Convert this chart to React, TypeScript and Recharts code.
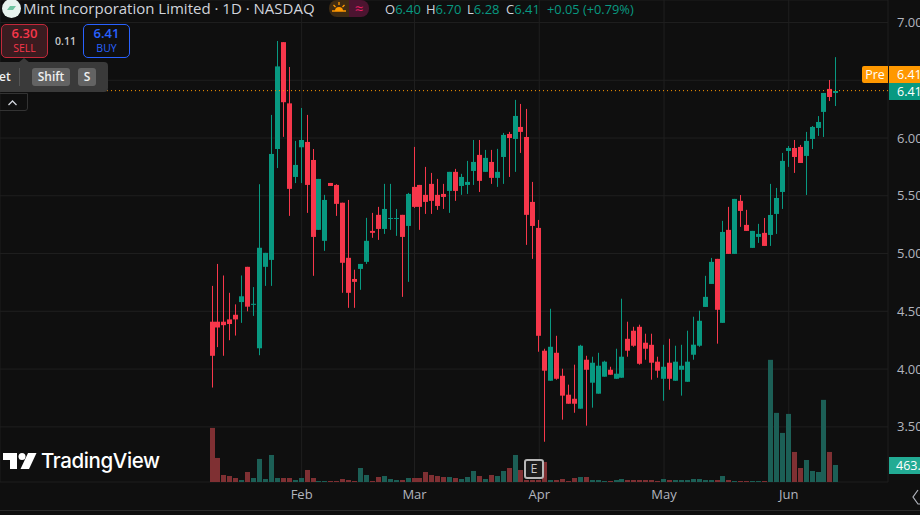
import React from 'react';
import { ComposedChart, Bar, XAxis, YAxis, CartesianGrid, ReferenceLine } from 'recharts';

const openPrices = [
  4.41, 4.41, 4.41, 4.43, 4.47, 4.58, 4.885, 4.556, 4.18, 4.885,
  4.945, 5.905, 6.83, 6.3, 5.663, 5.92, 5.966, 5.81, 5.205, 5.11,
  5.611, 5.594, 5.44, 4.963, 4.78, 4.867, 4.928, 5.196, 5.335, 5.213,
  5.3, 5.3, 5.335, 5.239, 5.577, 5.594, 5.508, 5.603, 5.508, 5.516,
  5.542, 5.707, 5.585, 5.594, 5.715, 5.854, 5.707, 5.793, 5.655, 5.836,
  6.035, 5.992, 6.096, 6.009, 5.447, 5.222, 4.159, 3.899, 4.141, 3.942,
  3.778, 3.743, 3.657, 4.081, 3.882, 3.787, 3.934, 3.994, 3.916, 3.925,
  4.262, 4.332, 4.366, 4.228, 4.21, 4.064, 3.916, 4.055, 3.899, 3.994,
  3.89, 4.124, 4.202, 4.538, 4.737, 4.954, 4.4, 5.205, 4.997, 5.456,
  5.248, 5.049, 5.144, 5.179, 5.161, 5.343, 5.533, 5.888, 5.914, 5.923,
  5.845, 5.992, 6.087, 6.226, 6.425, 6.39,
];
const closePrices = [
  4.115, 4.36, 4.38, 4.39, 4.43, 4.63, 4.54, 4.565, 5.05, 5.006,
  5.862, 6.62, 6.31, 5.56, 5.767, 5.983, 5.594, 5.144, 5.646, 5.464,
  5.585, 5.43, 4.92, 4.66, 4.755, 4.91, 5.11, 5.179, 5.213, 5.386,
  5.308, 5.308, 5.144, 5.516, 5.404, 5.404, 5.447, 5.456, 5.412, 5.49,
  5.707, 5.542, 5.663, 5.62, 5.793, 5.629, 5.828, 5.655, 5.707, 6.027,
  6.0, 6.191, 6.053, 5.335, 5.239, 4.288, 3.986, 4.193, 3.916, 3.77,
  3.7, 3.7, 4.202, 3.994, 4.055, 4.029, 4.064, 3.951, 3.96, 4.107,
  4.159, 4.202, 4.046, 4.176, 4.055, 3.986, 4.02, 3.916, 4.064, 4.029,
  4.064, 4.211, 4.418, 4.625, 4.928, 4.513, 5.187, 4.997, 5.473, 5.369,
  5.196, 5.196, 5.17, 5.066, 5.334, 5.481, 5.802, 5.914, 5.836, 5.784,
  5.975, 6.096, 6.139, 6.39, 6.355, 6.407,
];
const highPrices = [
  4.72, 4.91, 4.81, 4.66, 4.56, 4.81, 4.885, 4.71, 5.6, 5.006,
  6.2, 6.84, 6.83, 6.615, 5.975, 6.26, 6.2, 5.905, 5.646, 5.508,
  5.611, 5.6, 5.44, 5.464, 4.86, 4.91, 5.309, 5.352, 5.404, 5.603,
  5.603, 5.386, 5.335, 5.525, 5.923, 5.594, 5.75, 5.698, 5.646, 5.603,
  5.707, 5.733, 5.69, 5.802, 5.983, 5.983, 5.897, 5.897, 5.906, 6.044,
  6.053, 6.33, 6.295, 6.252, 5.62, 5.291, 4.176, 4.522, 4.288, 4.003,
  3.865, 4.038, 4.21, 4.115, 4.107, 4.141, 4.072, 4.02, 4.176, 4.609,
  4.41, 4.366, 4.384, 4.306, 4.306, 4.107, 4.21, 4.262, 4.202, 4.21,
  4.332, 4.453, 4.505, 4.807, 4.962, 4.954, 5.283, 5.404, 5.473, 5.507,
  5.378, 5.196, 5.257, 5.308, 5.603, 5.568, 5.871, 5.931, 5.983, 5.94,
  6.053, 6.104, 6.19, 6.39, 6.502, 6.7,
];
const lowPrices = [
  3.84, 4.19, 4.115, 4.25, 4.29, 4.4, 4.5, 4.46, 4.12, 4.72,
  4.72, 5.74, 6.01, 5.326, 5.61, 5.61, 5.352, 4.807, 5.205, 5.023,
  5.585, 5.326, 4.66, 4.53, 4.53, 4.686, 4.91, 5.136, 5.118, 5.17,
  5.205, 5.153, 4.625, 4.755, 5.395, 5.205, 5.343, 5.343, 5.378, 5.386,
  5.352, 5.456, 5.508, 5.516, 5.594, 5.533, 5.707, 5.603, 5.577, 5.603,
  5.663, 5.707, 5.871, 5.075, 4.954, 4.15, 3.371, 3.899, 3.908, 3.562,
  3.7, 3.622, 3.657, 3.51, 3.666, 3.787, 3.934, 3.951, 3.916, 3.925,
  4.107, 4.193, 4.038, 4.081, 3.908, 3.925, 3.726, 3.821, 3.899, 3.77,
  3.89, 4.081, 4.193, 4.538, 4.737, 4.22, 4.4, 4.997, 4.997, 5.231,
  5.196, 5.049, 5.092, 5.066, 5.066, 5.17, 5.386, 5.75, 5.698, 5.784,
  5.507, 5.905, 6.018, 6.009, 6.32, 6.277,
];
// volume in thousands of shares
const volumes = [
  1471, 654, 191, 163, 109, 54, 272, 109, 627, 82,
  735, 109, 109, 109, 54, 109, 327, 109, 27, 27,
  27, 27, 82, 54, 27, 381, 191, 27, 136, 163,
  82, 54, 54, 109, 109, 109, 272, 191, 163, 136,
  136, 109, 82, 136, 300, 163, 82, 191, 163, 300,
  381, 735, 327, 54, 54, 54, 545, 54, 54, 82,
  27, 109, 136, 136, 54, 54, 27, 27, 54, 82,
  54, 54, 54, 54, 54, 27, 82, 54, 54, 54,
  54, 82, 82, 54, 54, 54, 163, 54, 27, 27,
  27, 27, 27, 27, 3323, 1880, 1335, 1852, 817, 381,
  599, 300, 272, 2234, 817, 463,
];
const monthTicks = [15, 34, 55, 76, 97];
const monthLabels = ['Feb', 'Mar', 'Apr', 'May', 'Jun'];
const priceTicks = [3.5, 4, 4.5, 5, 5.5, 6, 6.5, 7];

const chartData = openPrices.map((open, i) => ({
  i,
  open,
  close: closePrices[i],
  range: [lowPrices[i], highPrices[i]],
  volume: volumes[i],
}));

const UP = '#089981';
const DOWN = '#f7374b';
const UP_VOL = '#1c5f56';
const DOWN_VOL = '#7f3033';
const BG = '#0f0f0f';
const FONT = '"Open Sans", sans-serif';

const Candle = (props: any) => {
  const { x, y, width, height, payload } = props;
  const { open, close, range } = payload;
  const [low, high] = range;
  const color = close >= open ? UP : DOWN;
  const top = Math.min(y, y + height);
  const h = Math.abs(height);
  const perUnit = h / (high - low);
  const bodyTop = top + (high - Math.max(open, close)) * perUnit;
  const bodyH = Math.max(Math.abs(open - close) * perUnit, 1);
  const cx = Math.round(x + width / 2 - 0.5) + 0.5;
  return (
    <g>
      <line x1={cx} x2={cx} y1={top} y2={top + h} stroke={color} strokeWidth={1} />
      <rect x={cx - 2.5} y={bodyTop} width={5} height={bodyH} fill={color} />
    </g>
  );
};

const VolumeBar = (props: any) => {
  const { x, y, width, height, payload } = props;
  const color = payload.close >= payload.open ? UP_VOL : DOWN_VOL;
  const cx = Math.round(x + width / 2 - 0.5) + 0.5;
  return <rect x={cx - 2.5} y={y} width={5} height={height} fill={color} />;
};

const abs = (left: number, top: number, extra: React.CSSProperties = {}): React.CSSProperties => ({
  position: 'absolute', left, top, whiteSpace: 'nowrap', ...extra,
});

const quote = [
  { x: 385, k: 'O', v: '6.40' },
  { x: 426, k: 'H', v: '6.70' },
  { x: 467, k: 'L', v: '6.28' },
  { x: 506, k: 'C', v: '6.41' },
];

export default function App() {
  return (
    <div style={{ position: 'absolute', left: 0, top: 0, width: 920, height: 515, background: BG, overflow: 'hidden', fontFamily: FONT }}>
      <ComposedChart width={920} height={515} data={chartData} margin={{ top: 0, right: 0, bottom: 0, left: 0 }}>
        <CartesianGrid stroke="#1f1f1f" xAxisId="time" yAxisId="price" />
        <XAxis
          xAxisId="time"
          dataKey="i"
          type="number"
          domain={[-35.77, 113.7]}
          ticks={monthTicks}
          interval={0}
          tickFormatter={(v: number) => monthLabels[monthTicks.indexOf(v)]}
          height={33}
          axisLine={false}
          tickLine={false}
          tickMargin={2}
          tick={{ fill: '#b2b5be', fontSize: 13, fontFamily: FONT }}
          allowDataOverflow
        />
        <XAxis xAxisId="timeVol" dataKey="i" type="number" domain={[-35.77, 113.7]} hide height={33} allowDataOverflow />
        <YAxis
          yAxisId="price"
          orientation="right"
          domain={[3.0225, 7.1947]}
          ticks={priceTicks}
          interval={0}
          tickFormatter={(v: number) => v.toFixed(2)}
          width={32}
          axisLine={false}
          tickLine={false}
          tickMargin={3}
          tick={{ fill: '#b2b5be', fontSize: 13, fontFamily: FONT, textAnchor: 'start' }}
          allowDataOverflow
        />
        <YAxis yAxisId="volume" orientation="right" domain={[0, 13110]} hide width={0} allowDataOverflow />
        <Bar xAxisId="timeVol" yAxisId="volume" dataKey="volume" barSize={5} shape={VolumeBar} isAnimationActive={false} />
        <ReferenceLine xAxisId="time" yAxisId="price" y={6.41} stroke="#ff9800" strokeDasharray="1 3" />
        <Bar xAxisId="time" yAxisId="price" dataKey="range" barSize={5} shape={Candle} isAnimationActive={false} />
      </ComposedChart>

      {/* header */}
      <div style={abs(2, -1, { width: 19, height: 19, borderRadius: 10, background: '#e8f3ee' })}>
        <svg width={19} height={19}>
          <path d="M5 11 L8 7 H14 L11 11 Z" fill="#6fc4a0" />
        </svg>
      </div>
      <div style={abs(23, -1, { color: '#d1d4dc', fontSize: 15, lineHeight: '19px' })}>Mint Incorporation Limited · 1D · NASDAQ</div>
      <div style={abs(329, 0, { width: 20, height: 17, background: '#3f2b12', borderRadius: '8px 0 0 8px' })}>
        <svg width={20} height={17}>
          <path d="M6 11 A4 4 0 0 1 14 11 Z" fill="#ff9800" />
          <path d="M3 11 H17 M10 2 V5 M4.5 5 L6.5 7 M15.5 5 L13.5 7" stroke="#ff9800" strokeWidth={1.3} />
        </svg>
      </div>
      <div style={abs(349, 0, { width: 20, height: 17, background: '#4c1430', borderRadius: '0 8px 8px 0', color: '#e91e63', fontSize: 15, lineHeight: '16px', textAlign: 'center' })}>≈</div>
      {quote.map((q) => (
        <div key={q.k} style={abs(q.x, 0, { fontSize: 13, lineHeight: '18px', color: UP })}>
          <span style={{ color: '#d1d4dc' }}>{q.k}</span>{q.v}
        </div>
      ))}
      <div style={abs(547, 0, { fontSize: 12.8, lineHeight: '18px', color: UP })}>+0.05 (+0.79%)</div>

      {/* buy / sell */}
      <div style={abs(1, 24, { width: 45, height: 32, border: '1px solid #c2293a', borderRadius: 5, background: '#3a1c20', color: DOWN, textAlign: 'center' })}>
        <div style={{ fontSize: 13, lineHeight: '17px', fontWeight: 600 }}>6.30</div>
        <div style={{ fontSize: 10.5, lineHeight: '13px' }}>SELL</div>
      </div>
      <div style={abs(55, 35, { color: '#c8c8c8', fontSize: 10.5, lineHeight: '13px', fontWeight: 600 })}>0.11</div>
      <div style={abs(83, 24, { width: 45, height: 32, border: '1px solid #2962ff', borderRadius: 5, background: BG, color: '#2962ff', textAlign: 'center' })}>
        <div style={{ fontSize: 13, lineHeight: '17px', fontWeight: 600 }}>6.41</div>
        <div style={{ fontSize: 10.5, lineHeight: '13px' }}>BUY</div>
      </div>

      {/* hint tooltip */}
      <div style={abs(0, 62, { width: 108, height: 30, background: '#3a3a3a', borderRadius: '0 4px 4px 0', color: '#f0f0f0', fontSize: 12, fontWeight: 600 })}>
        <div style={abs(-1, 6, { lineHeight: '18px' })}>et</div>
        <div style={abs(19, 6, { width: 1, height: 18, background: '#555' })} />
        <div style={abs(32, 6, { width: 38, height: 18, background: '#636363', borderRadius: 3, textAlign: 'center', lineHeight: '18px' })}>Shift</div>
        <div style={abs(78, 6, { width: 18, height: 18, background: '#636363', borderRadius: 3, textAlign: 'center', lineHeight: '18px' })}>S</div>
      </div>
      <svg style={abs(16, 57)} width={16} height={6}><path d="M2 6 L8 1 L14 6 Z" fill="#3a3a3a" /></svg>
      <div style={abs(-1, 93, { width: 27, height: 16, border: '1px solid #333', borderRadius: '0 0 3px 0' })}>
        <svg width={27} height={16}><path d="M8.5 10 L12.5 6 L16.5 10" fill="none" stroke="#d1d4dc" strokeWidth={1.3} /></svg>
      </div>

      {/* price tags */}
      <div style={abs(862, 66, { width: 26, height: 17, background: '#ff9800', color: '#fff', fontSize: 12.5, lineHeight: '17px', textAlign: 'center', borderRadius: '2px 0 0 2px' })}>Pre</div>
      <div style={abs(889, 66, { width: 31, height: 17, background: '#ff9800', color: '#fff', fontSize: 12.5, lineHeight: '17px', paddingLeft: 8, boxSizing: 'border-box' })}>6.41</div>
      <div style={abs(889, 83, { width: 31, height: 17, background: UP, color: '#fff', fontSize: 12.5, lineHeight: '17px', paddingLeft: 8, boxSizing: 'border-box' })}>6.41</div>
      <div style={abs(889, 457, { width: 31, height: 17, background: '#22ab94', color: '#fff', fontSize: 12.5, lineHeight: '17px', paddingLeft: 7, boxSizing: 'border-box', overflow: 'hidden' })}>463.</div>

      {/* earnings badge */}
      <div style={abs(524, 459, { width: 16, height: 16, border: '2px solid #b8b8b8', borderRadius: 3, background: '#1c1c1c', color: '#c8c8c8', fontSize: 12.5, lineHeight: '16px', textAlign: 'center' })}>E</div>

      {/* TradingView logo */}
      <svg style={abs(3, 452)} width={34} height={18}>
        <path d="M0 1 H14 V17 H7 V8 H0 Z" fill="#fff" />
        <circle cx={19} cy={4.5} r={3.5} fill="#fff" />
        <path d="M25 1 H33.5 L26 17 H17.5 Z" fill="#fff" />
      </svg>
      <div style={abs(41, 448, { color: '#fff', fontSize: 20.5, lineHeight: '26px', fontWeight: 500, fontFamily: '"Inter", sans-serif', letterSpacing: -0.4 })}>TradingView</div>

      {/* settings glyph and bottom rule */}
      <svg style={abs(912, 489)} width={8} height={16}><path d="M6 1 L1 8 L6 15 H14" fill="none" stroke="#b2b5be" strokeWidth={1.2} /></svg>
      <div style={abs(0, 510, { width: 920, height: 1, background: '#2a2a2a' })} />
    </div>
  );
}
